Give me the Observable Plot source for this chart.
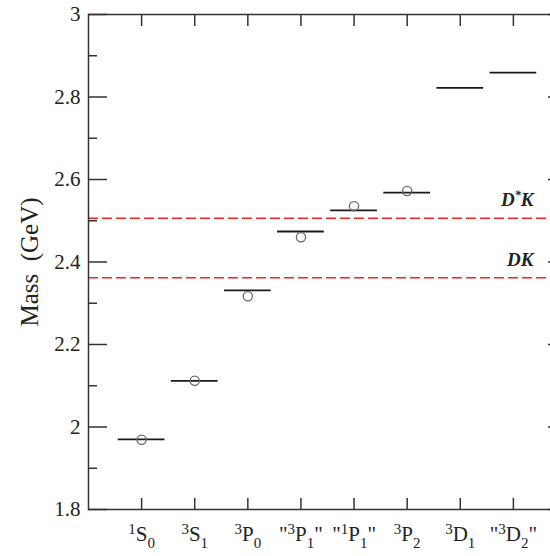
<!DOCTYPE html>
<html><head><meta charset="utf-8">
<script src="https://cdn.jsdelivr.net/npm/d3@7"></script>
<script src="https://cdn.jsdelivr.net/npm/@observablehq/plot@0.6"></script>
<style>html,body{margin:0;padding:0;background:#fff;overflow:hidden}</style>
</head><body><div id="chart"></div>
<script>
// ---- data ----
const states = ['^1S_0', '^3S_1', '^3P_0', '"^3P_1"', '"^1P_1"', '^3P_2', '^3D_1', '"^3D_2"'];
const modelMass = [1.970, 2.112, 2.331, 2.474, 2.525, 2.568, 2.822, 2.859];
const expMass = [1.969, 2.112, 2.317, 2.460, 2.535, 2.572, null, null];
const thresholdNames = ['D^*K', 'DK'];
const thresholdMass = [2.506, 2.362];
const yMajorTicks = [1.8, 2, 2.2, 2.4, 2.6, 2.8, 3];
const yMinorTicks = [1.9, 2.1, 2.3, 2.5, 2.7, 2.9];
const yLabel = "Mass\u00a0 (GeV)";

const levels = states.map((s, i) => ({i, s, m: modelMass[i], e: expMass[i]}));
const thresholds = thresholdNames.map((n, i) => ({name: n, m: thresholdMass[i]}));
const xTicks = states.map((s, i) => i);
const half = 0.44;
const axisColor = "#333";

const plot = Plot.plot({
  width: 550,
  height: 556,
  marginLeft: 88,
  marginRight: -16,
  marginTop: 14,
  marginBottom: 47,
  style: {fontFamily: "'Liberation Serif', 'Times New Roman', serif", fontSize: "21px", color: "#222", background: "#fff"},
  x: {domain: [-1, 8]},
  y: {domain: [1.8, 3]},
  marks: [
    Plot.ruleY(thresholds, {y: "m", stroke: "#ff1f1f", strokeWidth: 1.6, strokeDasharray: "10,4"}),
    Plot.ruleY(levels, {y: "m", x1: d => d.i - half, x2: d => d.i + half, stroke: "#1a1a1a", strokeWidth: 1.8}),
    Plot.dot(levels.filter(d => d.e != null), {x: "i", y: "e", r: 4.6, stroke: "#666", strokeWidth: 1.3, fill: "none"}),
    Plot.text(thresholds, {y: "m", text: "name", frameAnchor: "right", dx: -33, dy: -18, textAnchor: "end",
      fontWeight: "bold", fontStyle: "italic", fontSize: 19, fill: "#222"}),
    Plot.frame({stroke: axisColor, strokeWidth: 1.5}),
    // y axis title
    Plot.axisY({anchor: "left", ticks: [], tickSize: 0, fontSize: 25, label: yLabel, labelAnchor: "center", labelOffset: 68, labelArrow: "none"}),
    // y tick labels
    Plot.axisY({anchor: "left", ticks: yMajorTicks, tickSize: 0, tickPadding: 8, fontSize: 21,
      tickFormat: d => d3.format("~g")(d), label: null}),
    // y ticks (inward)
    Plot.axisY({anchor: "left", ticks: yMajorTicks, tickSize: -19, tickFormat: () => "", label: null, stroke: axisColor, strokeWidth: 1.5}),
    Plot.axisY({anchor: "left", ticks: yMinorTicks, tickSize: -9, tickFormat: () => "", label: null, stroke: axisColor, strokeWidth: 1.5}),
    Plot.axisY({anchor: "right", ticks: yMajorTicks, tickSize: -19, tickFormat: () => "", label: null, stroke: axisColor, strokeWidth: 1.5}),
    Plot.axisY({anchor: "right", ticks: yMinorTicks, tickSize: -9, tickFormat: () => "", label: null, stroke: axisColor, strokeWidth: 1.5}),
    // x ticks (inward)
    Plot.axisX({anchor: "bottom", ticks: xTicks, tickSize: -11, tickFormat: () => "", label: null, stroke: axisColor, strokeWidth: 1.5}),
    Plot.axisX({anchor: "top", ticks: xTicks, tickSize: -11, tickFormat: () => "", label: null, stroke: axisColor, strokeWidth: 1.5}),
    // x labels
    Plot.axisX({anchor: "bottom", ticks: xTicks, tickSize: 0, tickPadding: 17, fontSize: 21, tickFormat: i => states[i], label: null})
  ]
});
document.getElementById("chart").appendChild(plot);

// render ^x as superscript and _x as subscript with tspans
const svgns = "http://www.w3.org/2000/svg";
function richify(el, smallSize, supShift, subShift) {
  const s = el.textContent;
  if (!/[\^_]/.test(s)) return;
  const parts = [];
  for (let k = 0; k < s.length; k++) {
    const c = s[k];
    if (c === "^" || c === "_") { parts.push({t: s[k + 1], kind: c}); k++; }
    else {
      const last = parts[parts.length - 1];
      if (last && last.kind === "n") last.t += c; else parts.push({t: c, kind: "n"});
    }
  }
  el.textContent = "";
  let shift = 0;
  for (const p of parts) {
    const ts = document.createElementNS(svgns, "tspan");
    const target = p.kind === "^" ? -supShift : p.kind === "_" ? subShift : 0;
    if (target - shift !== 0) ts.setAttribute("dy", target - shift);
    shift = target;
    if (p.kind !== "n") ts.setAttribute("font-size", smallSize);
    ts.textContent = p.t;
    el.appendChild(ts);
  }
}
plot.querySelectorAll("text").forEach(t => {
  const s = t.textContent;
  if (s.includes("K")) richify(t, 12, 7, 0);
  else richify(t, 15, 7, 7);
});
</script>
</body></html>
